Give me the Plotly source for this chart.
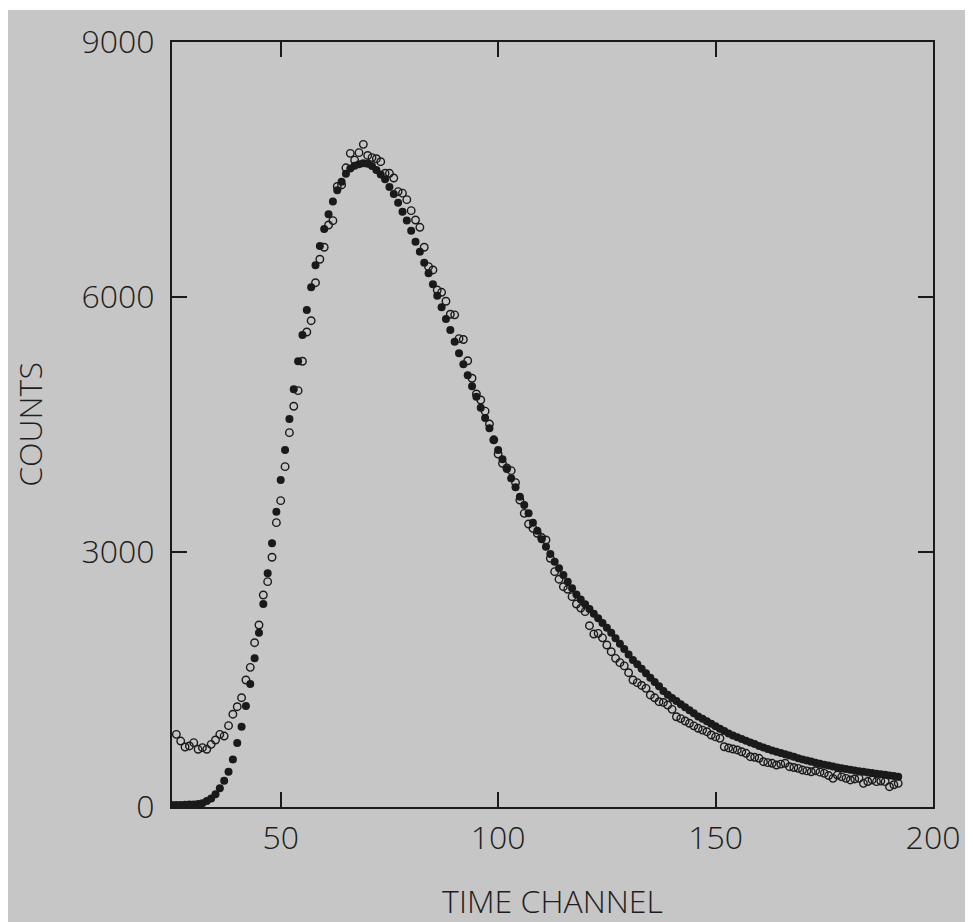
import plotly.graph_objects as go

# Time channels / counts
fit_start = 25
fit_counts = [
    25, 25, 25, 27, 28, 30, 35, 45, 70, 100,            # 25-34
    150, 220, 310, 415, 560, 753, 945, 1188, 1447, 1749,  # 35-44
    2050, 2388, 2749, 3102, 3474, 3847, 4200, 4565, 4914, 5244,  # 45-54
    5553, 5847, 6114, 6373, 6600, 6800, 6973, 7125, 7255, 7357,  # 55-64
    7450, 7512, 7545, 7562, 7573, 7567, 7540, 7495, 7440, 7385,  # 65-74
    7295, 7212, 7110, 7004, 6900, 6780, 6650, 6533, 6404, 6279,  # 75-84
    6149, 6016, 5880, 5741, 5612, 5474, 5338, 5210, 5080, 4950,  # 85-94
    4827, 4697, 4576, 4455, 4318, 4200, 4090, 3977, 3867, 3761,  # 95-104
    3651, 3553, 3455, 3345, 3251, 3149, 3063, 2977, 2886, 2808,  # 105-114
    2729, 2650, 2575, 2500, 2440, 2385, 2330, 2275, 2220, 2165,  # 115-124
    2110, 2050, 1986, 1922, 1858, 1794, 1730, 1678, 1626, 1574,  # 125-134
    1522, 1470, 1420, 1365, 1320, 1283, 1247, 1210, 1174, 1138,  # 135-144
    1102, 1066, 1037, 1008, 980, 951, 922, 893, 866, 840,        # 145-154
    820, 800, 780, 760, 740, 719, 699, 681, 666, 651,            # 155-164
    636, 620, 605, 590, 575, 560, 547, 534, 522, 510,            # 165-174
    498, 487, 476, 466, 456, 447, 438, 430, 422, 414,            # 175-184
    406, 399, 392, 385, 378, 371, 364, 357,                      # 185-192
]

data_start = 26
data_counts = [
    855, 776, 706, 718, 757, 679, 698, 679, 737,                 # 26-34
    788, 855, 835, 957, 1092, 1180, 1286, 1494, 1643, 1933,      # 35-44
    2141, 2494, 2651, 2938, 3345, 3604, 4004, 4404, 4715, 4898,  # 45-54
    5244, 5588, 5721, 6168, 6444, 6585, 6847, 6898, 7300, 7318,  # 55-64
    7520, 7690, 7610, 7698, 7796, 7665, 7640, 7627, 7592, 7455,  # 65-74
    7455, 7400, 7240, 7222, 7145, 7016, 6906, 6820, 6585, 6357,  # 75-84
    6318, 6082, 6055, 5950, 5797, 5790, 5510, 5500, 5250, 5044,  # 85-94
    4859, 4788, 4657, 4506, 4320, 4153, 4043, 3990, 3957, 3816,  # 95-104
    3612, 3455, 3329, 3278, 3220, 3170, 3141, 2926, 2769, 2680,  # 105-114
    2592, 2561, 2475, 2388, 2340, 2298, 2133, 2035, 2043, 1990,  # 115-124
    1906, 1827, 1749, 1698, 1660, 1580, 1494, 1463, 1430, 1396,  # 125-134
    1318, 1285, 1239, 1230, 1200, 1149, 1062, 1040, 1012, 985,   # 135-144
    955, 926, 905, 886, 847, 825, 808, 709, 695, 682,            # 145-154
    671, 650, 632, 592, 585, 573, 533, 522, 514, 494,            # 155-164
    505, 514, 474, 465, 455, 435, 425, 415, 427, 410,            # 165-174
    396, 370, 337, 376, 355, 337, 318, 330, 337, 278,            # 175-184
    300, 318, 298, 305, 298, 239, 262, 278,                      # 185-192
]

x_ticks = [50, 100, 150, 200]
y_ticks = [0, 3000, 6000, 9000]
x_title = "TIME CHANNEL"
y_title = "COUNTS"

fit_x = list(range(fit_start, fit_start + len(fit_counts)))
data_x = list(range(data_start, data_start + len(data_counts)))

INK = "#1a1a1a"
FONT = dict(family="Open Sans, Lato, sans-serif", size=32, color="#1e1e1e", weight=300)

fig = go.Figure()
fig.add_trace(go.Scatter(
    x=fit_x, y=fit_counts, mode="markers",
    marker=dict(symbol="circle", size=8, color=INK, line=dict(width=0)),
    showlegend=False, hoverinfo="x+y"))
fig.add_trace(go.Scatter(
    x=data_x, y=data_counts, mode="markers",
    marker=dict(symbol="circle-open", size=7.5, color=INK, line=dict(width=1.4, color=INK)),
    showlegend=False, hoverinfo="x+y"))

# page is drawn with an 8px body margin, so the figure is 8px smaller
W, H = 965, 914
L, R, T, B = 164, 40, 34, 115
pw, ph = W - L - R, H - T - B

def px2paper_x(px):
    return (px - L) / pw

def px2paper_y(py):
    return (H - B - py) / ph

fig.add_shape(type="rect", xref="paper", yref="paper", layer="below",
              x0=px2paper_x(-1), x1=px2paper_x(W + 5), y0=px2paper_y(H + 5), y1=px2paper_y(2),
              fillcolor="#c6c6c6", line=dict(width=0))

axis_common = dict(
    showgrid=False, zeroline=False, showline=True, linecolor=INK, linewidth=2,
    mirror="ticks", ticks="inside", ticklen=15, tickwidth=2, tickcolor=INK,
    tickfont=FONT,
)

fig.update_xaxes(range=[25, 200], tickvals=x_ticks, ticktext=[str(v) for v in x_ticks],
                 ticklabelstandoff=2,
                 title=dict(text=x_title, font=FONT, standoff=34), **axis_common)
fig.update_yaxes(range=[0, 9000], tickvals=y_ticks, ticktext=[str(v) for v in y_ticks],
                 ticklabelstandoff=9,
                 title=dict(text=y_title, font=FONT, standoff=38), **axis_common)

fig.update_layout(
    width=W, height=H,
    margin=dict(l=L, r=R, t=T, b=B, autoexpand=False),
    paper_bgcolor="white", plot_bgcolor="rgba(0,0,0,0)",
    font=FONT,
)

fig.write_html("out.html")
